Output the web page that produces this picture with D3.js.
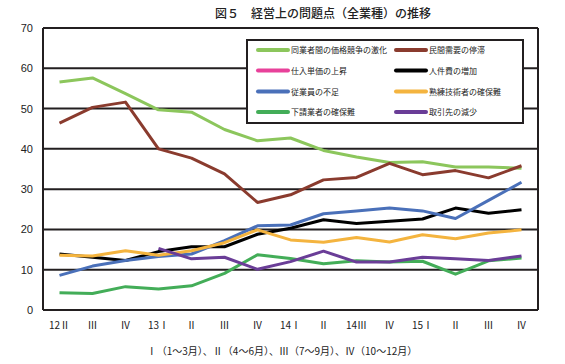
<!DOCTYPE html>
<html><head><meta charset="utf-8">
<script src="https://cdn.jsdelivr.net/npm/d3@7"></script>
<style>
body{margin:0;background:#fff;}
text{font-family:"Noto Sans CJK JP","Noto Sans",sans-serif;}
</style></head>
<body><svg id="c" width="565" height="364"></svg>
<script>
const categories = ["12Ⅱ","Ⅲ","Ⅳ","13Ⅰ","Ⅱ","Ⅲ","Ⅳ","14Ⅰ","Ⅱ","14Ⅲ","Ⅳ","15Ⅰ","Ⅱ","Ⅲ","Ⅳ"];
const yTicks = [0,10,20,30,40,50,60,70];
const seriesNames = ["同業者間の価格競争の激化","民間需要の停滞","仕入単価の上昇","人件費の増加","従業員の不足","熟練技術者の確保難","下請業者の確保難","取引先の減少"];
const kakakuKyoso = [56.6,57.6,53.7,49.7,49.1,44.8,42.0,42.7,39.6,38.0,36.6,36.8,35.5,35.5,35.2];
const minkanJuyo = [46.4,50.3,51.6,40.0,37.7,33.8,26.7,28.6,32.3,32.9,36.4,33.6,34.6,32.8,35.8];
const shiireTanka = [null,null,null,null,null,null,null,null,null,null,null,null,null,null,null];
const jinkenhi = [13.9,13.1,12.3,14.5,15.7,15.7,18.8,20.3,22.4,21.5,22.0,22.6,25.3,24.0,24.9];
const jugyoin = [8.6,10.9,12.3,13.3,13.9,17.2,20.9,21.1,23.9,24.6,25.3,24.6,22.7,27.2,31.7];
const jukuren = [13.6,13.4,14.7,13.6,14.7,16.7,19.9,17.4,16.8,18.0,16.9,18.7,17.7,19.1,19.9];
const shitauke = [4.3,4.1,5.8,5.2,6.0,9.1,13.7,12.8,11.5,12.2,11.9,12.1,8.9,12.2,12.9];
const torihiki = [null,null,null,15.3,12.7,13.1,10.1,12.0,14.6,11.9,11.9,13.1,12.7,12.3,13.4];
const colors = ["#8cc65c","#8a3b2e","#e8419a","#000000","#4a70b9","#f4b43f","#43ad58","#6a3d97"];
const title = "図５　経営上の問題点（全業種）の推移";
const caption = "Ⅰ（1～3月）、Ⅱ（4～6月）、Ⅲ（7～9月）、Ⅳ（10～12月）";

const seriesValues = [kakakuKyoso,minkanJuyo,shiireTanka,jinkenhi,jugyoin,jukuren,shitauke,torihiki];
const series = seriesNames.map((n,i)=>({name:n,values:seriesValues[i],color:colors[i]}));

const svg = d3.select("#c");
const L=43,R=538,T=28,B=310;
const x = d3.scaleBand().domain(d3.range(categories.length)).range([L,R]);
const y = d3.scaleLinear().domain([0,70]).range([B,T]);
const ink="#231f20";

svg.append("g").selectAll("line").data(yTicks).join("line")
  .attr("x1",L).attr("x2",R).attr("y1",d=>y(d)).attr("y2",d=>y(d))
  .attr("stroke",ink).attr("stroke-width",2);
svg.append("line").attr("x1",L).attr("x2",L).attr("y1",T).attr("y2",B).attr("stroke",ink).attr("stroke-width",2);
svg.append("line").attr("x1",R).attr("x2",R).attr("y1",T).attr("y2",B).attr("stroke",ink).attr("stroke-width",2);

svg.append("g").selectAll("text").data(yTicks).join("text")
  .attr("x",33).attr("y",d=>y(d)+4).attr("text-anchor","end")
  .attr("font-size",11).attr("fill","#222")
  .style("font-family","'Liberation Sans Narrow','Liberation Sans',sans-serif")
  .text(d=>d);

svg.append("g").selectAll("text").data(categories).join("text")
  .attr("x",(d,i)=>x(i)+x.bandwidth()/2).attr("y",329).attr("text-anchor","middle")
  .attr("font-size",10).attr("fill","#222").text(d=>d);

const line = d3.line().defined(d=>d!=null)
  .x((d,i)=>x(i)+x.bandwidth()/2).y(d=>y(d));
svg.append("g").selectAll("path").data(series).join("path")
  .attr("d",s=>line(s.values)).attr("fill","none")
  .attr("stroke",s=>s.color).attr("stroke-width",3).attr("stroke-linejoin","round");

const lg = svg.append("g");
lg.append("rect").attr("x",247).attr("y",40).attr("width",276).attr("height",83)
  .attr("fill","#fff").attr("stroke",ink).attr("stroke-width",2);
const rowsY=[50,70.5,91.5,112];
series.forEach((s,i)=>{
  const col=i%2,row=Math.floor(i/2);
  const lx = col===0?258:396;
  const ly = rowsY[row];
  lg.append("line").attr("x1",lx).attr("x2",lx+30).attr("y1",ly).attr("y2",ly)
    .attr("stroke",s.color).attr("stroke-width",4).attr("stroke-linecap","round");
  lg.append("text").attr("x",lx+33).attr("y",ly+3).attr("font-size",8).attr("fill","#222").text(s.name);
});

svg.append("text").attr("x",323).attr("y",18).attr("text-anchor","middle")
  .attr("font-size",12).attr("font-weight",500).attr("fill","#222").text(title);
svg.append("text").attr("x",282).attr("y",355).attr("text-anchor","middle")
  .attr("font-size",10).attr("fill","#222").text(caption);
</script></body></html>
